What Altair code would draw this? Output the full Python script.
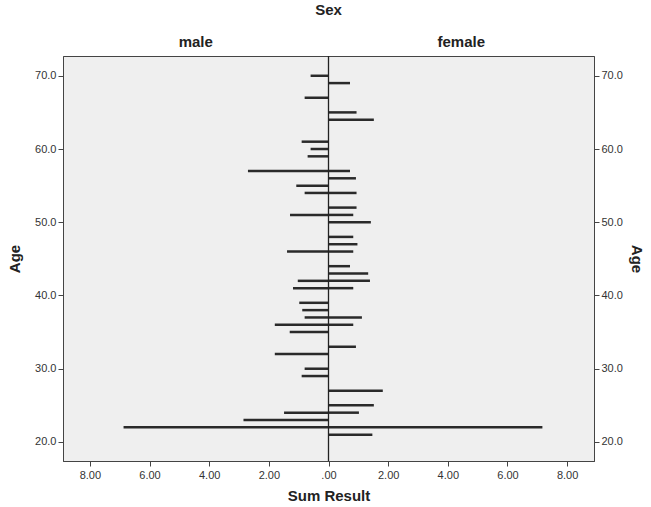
import altair as alt
import pandas as pd

# ---- data ----
male_ages = [70, 67, 61, 60, 59, 57, 55, 54, 51, 46, 42, 41, 39, 38, 37, 36, 35, 32, 30, 29, 24, 23, 22]
male_sum = [0.60, 0.80, 0.90, 0.60, 0.70, 2.70, 1.08, 0.80, 1.29, 1.39, 1.03, 1.19, 0.98, 0.88,
            0.80, 1.80, 1.30, 1.80, 0.80, 0.90, 1.49, 2.85, 6.87]
female_ages = [69, 65, 64, 57, 56, 54, 52, 51, 50, 48, 47, 46, 44, 43, 42, 41, 37, 36, 33, 27, 25, 24, 22, 21]
female_sum = [0.72, 0.94, 1.52, 0.72, 0.92, 0.94, 0.94, 0.83, 1.42, 0.83, 0.97, 0.83, 0.72, 1.33,
              1.39, 0.83, 1.12, 0.83, 0.92, 1.82, 1.52, 1.02, 7.17, 1.47]
x_ticks = [-8, -6, -4, -2, 0, 2, 4, 6, 8]
y_ticks = [20, 30, 40, 50, 60, 70]
panel_titles = ["male", "female"]
XMAX = 8.9
YMIN, YMAX = 17.4, 72.7

male_df = pd.DataFrame({"Age": male_ages, "Sum": [-v for v in male_sum]})
female_df = pd.DataFrame({"Age": female_ages, "Sum": female_sum})
head_df = pd.DataFrame({"label": panel_titles, "pos": [-XMAX / 2, XMAX / 2]})
sex_df = pd.DataFrame({"label": ["Sex"], "pos": [0]})
zero_df = pd.DataFrame({"pos": [0]})

FONT = "Liberation Sans"
x_scale = alt.Scale(domain=[-XMAX, XMAX], nice=False, zero=False)
y_scale = alt.Scale(domain=[YMIN, YMAX], nice=False, zero=False)

x_axis = alt.Axis(
    values=x_ticks,
    labelExpr="datum.value == 0 ? '.00' : format(abs(datum.value), '.2f')",
    title="Sum Result", grid=False, tickSize=5, labelPadding=3,
    labelFont=FONT, labelFontSize=11, labelColor="#333",
    titleFont=FONT, titleFontSize=15, titleFontWeight="bold", titleColor="#222",
    titlePadding=8, domainColor="#444", tickColor="#444",
)

def y_axis(orient, pad):
    return alt.Axis(
        orient=orient, values=y_ticks, format=".1f", title="Age", grid=False,
        tickSize=5, labelPadding=2, labelFont=FONT, labelFontSize=11, labelColor="#333",
        titleFont=FONT, titleFontSize=15, titleFontWeight="bold", titleColor="#222",
        titlePadding=pad, domainColor="#444", tickColor="#444",
    )

male = alt.Chart(male_df).mark_rule(color="#2a2a2a", strokeWidth=2.5).encode(
    x=alt.X("Sum:Q", scale=x_scale, axis=x_axis),
    x2=alt.datum(0),
    y=alt.Y("Age:Q", scale=y_scale, axis=y_axis("left", 12)),
)
female = alt.Chart(female_df).mark_rule(color="#2a2a2a", strokeWidth=2.5).encode(
    x=alt.X("Sum:Q", scale=x_scale, axis=x_axis),
    x2=alt.datum(0),
    y=alt.Y("Age:Q", scale=y_scale, axis=y_axis("right", 6)),
)
center = alt.Chart(zero_df).mark_rule(color="#222", strokeWidth=1.3).encode(
    x=alt.X("pos:Q", scale=x_scale, axis=x_axis),
)
heads = alt.Chart(head_df).mark_text(
    font=FONT, fontSize=15, fontWeight="bold", color="#222", baseline="middle"
).encode(
    x=alt.X("pos:Q", scale=x_scale, axis=x_axis),
    y=alt.value(-14),
    text="label:N",
)
sex = alt.Chart(sex_df).mark_text(
    font=FONT, fontSize=15, fontWeight="bold", color="#222", baseline="middle"
).encode(
    x=alt.X("pos:Q", scale=x_scale, axis=x_axis),
    y=alt.value(-46),
    text="label:N",
)

chart = (
    alt.layer(male, female, center, heads, sex)
    .resolve_axis(y="independent")
    .properties(
        width=531, height=405,
        autosize=alt.AutoSizeParams(type="none"),
        padding={"left": 63, "top": 56, "right": 57, "bottom": 46},
        background="white",
    )
    .configure_view(fill="#efefef", stroke="#444", strokeWidth=1)
)

chart.save("out.html", embed_options={"renderer": "svg", "actions": False})
